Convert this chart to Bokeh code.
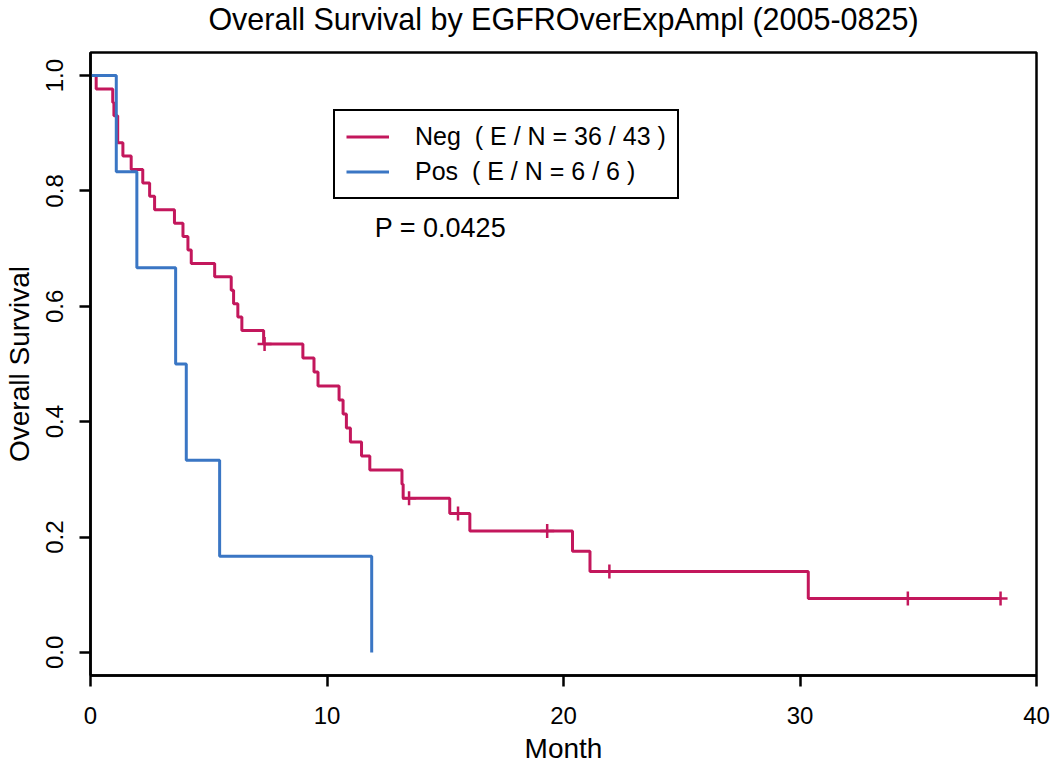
from bokeh.plotting import figure
from bokeh.models import Range1d, Legend, LegendItem, Label, FixedTicker, PrintfTickFormatter, Title
from bokeh.embed import file_html
from bokeh.resources import INLINE

# ---------------- data ----------------
title_text = "Overall Survival by EGFROverExpAmpl (2005-0825)"
x_label = "Month"
y_label = "Overall Survival"
x_ticks = [0, 10, 20, 30, 40]
y_ticks = [0.0, 0.2, 0.4, 0.6, 0.8, 1.0]
groups = ["Neg", "Pos"]

neg_event_times = [0.24, 0.94, 0.99, 1.15, 1.15, 1.37, 1.72, 2.21, 2.50, 2.71,
                   3.55, 3.91, 4.12, 4.26, 5.25, 5.95, 6.05, 6.23, 6.40, 7.32,
                   8.98, 9.45, 9.62, 10.51, 10.68, 10.82, 10.99, 11.46, 11.81,
                   13.17, 13.22, 15.19, 16.04, 20.38, 21.12, 30.35]
neg_censor_times = [7.36, 13.47, 15.54, 19.31, 21.94, 34.56, 38.48]

pos_event_times = [1.09, 1.96, 3.60, 4.05, 5.46, 11.89]
pos_censor_times = []

p_value_text = "P = 0.0425"

colors = {"Neg": "#C3175C", "Pos": "#3A76C4"}
FONT = "Liberation Sans"


def kaplan_meier(event_times, censor_times):
    times = sorted(set(event_times) | set(censor_times))
    at_risk = len(event_times) + len(censor_times)
    s = 1.0
    xs, ys, cx, cy = [0.0], [1.0], [], []
    for t in times:
        d = event_times.count(t)
        c = censor_times.count(t)
        if d:
            s *= (at_risk - d) / at_risk
            xs.append(t)
            ys.append(s)
        if c:
            cx.extend([t] * c)
            cy.extend([s] * c)
        at_risk -= d + c
    if censor_times and max(censor_times) > xs[-1]:
        xs.append(max(censor_times))
        ys.append(s)
    return xs, ys, cx, cy


p = figure(width=1050, height=766, output_backend="svg", toolbar_location=None,
           x_range=Range1d(0, 40), y_range=Range1d(-0.04, 1.04),
           min_border_left=90, min_border_right=14, min_border_top=52,
           min_border_bottom=91)

# spacer between frame and title (keeps the title near the top edge)
p.add_layout(Title(text=" ", text_font_size="10px", standoff=2), "above")

p.title.text = title_text
p.title.align = "center"
p.title.vertical_align = "top"
p.title.standoff = 0
p.title.text_font = FONT
p.title.text_font_size = "30.5px"
p.title.text_font_style = "normal"
p.title.text_color = "black"

p.xgrid.visible = False
p.ygrid.visible = False
p.outline_line_color = "black"
p.outline_line_width = 2.5
p.outline_line_alpha = 1.0
p.background_fill_color = "white"
p.border_fill_color = "white"

for ax in (p.xaxis[0], p.yaxis[0]):
    ax.axis_line_color = "black"
    ax.axis_line_width = 2.5
    ax.major_tick_line_color = "black"
    ax.major_tick_line_alpha = 1.0
    ax.major_tick_line_width = 2.5
    ax.major_tick_out = 11
    ax.major_tick_in = 0
    ax.minor_tick_line_color = None
    ax.major_label_text_font = FONT
    ax.major_label_text_font_size = "24px"
    ax.major_label_text_color = "black"
    ax.axis_label_text_font = FONT
    ax.axis_label_text_font_size = "28px"
    ax.axis_label_text_font_style = "normal"
    ax.axis_label_text_color = "black"

p.xaxis.axis_label = x_label
p.yaxis.axis_label = y_label
p.xaxis.ticker = FixedTicker(ticks=x_ticks)
p.yaxis.ticker = FixedTicker(ticks=y_ticks)
p.yaxis.formatter = PrintfTickFormatter(format="%.1f")
p.yaxis.major_label_orientation = "parallel"
p.xaxis.major_label_standoff = 20
p.yaxis.major_label_standoff = 16
p.xaxis.axis_label_standoff = 6
p.yaxis.axis_label_standoff = 9

data = {"Neg": (neg_event_times, neg_censor_times),
        "Pos": (pos_event_times, pos_censor_times)}
items = []
for g in groups:
    ev, ce = data[g]
    xs, ys, cx, cy = kaplan_meier(ev, ce)
    r = p.step(xs, ys, mode="after", line_color=colors[g], line_width=3)
    if cx:
        p.scatter(cx, cy, marker="cross", size=14, line_color=colors[g], line_width=2.5)
    n = len(ev) + len(ce)
    label = f"{g}  ( E / N = {len(ev)} / {n} )"
    items.append(LegendItem(label=label, renderers=[r]))

legend = Legend(items=items, location=(243, 476))
legend.border_line_color = "black"
legend.border_line_width = 2.5
legend.border_line_alpha = 1.0
legend.background_fill_alpha = 1.0
legend.label_text_font = FONT
legend.label_text_font_size = "25px"
legend.label_text_color = "black"
legend.glyph_width = 43
legend.glyph_height = 25
legend.label_height = 25
legend.label_standoff = 26
legend.padding = 11
legend.spacing = 6
legend.margin = 0
p.add_layout(legend)

p.add_layout(Label(x=12.02, y=0.735, text=p_value_text, text_font=FONT,
                   text_font_size="27px", text_color="black",
                   text_baseline="alphabetic"))

open("out.html", "w").write(file_html(p, INLINE))
